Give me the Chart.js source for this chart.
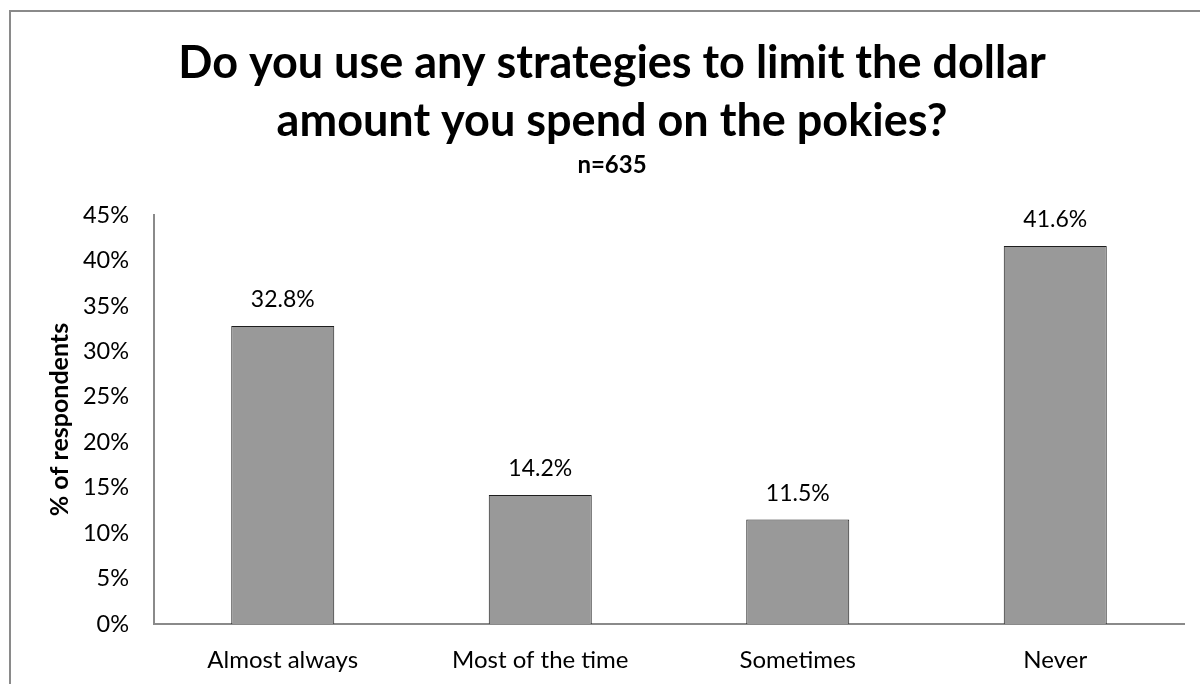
<!DOCTYPE html>
<html>
<head>
<meta charset="utf-8">
<title>Pokies spending strategies</title>
<script src="https://cdn.jsdelivr.net/npm/chart.js@4.4.1/dist/chart.umd.min.js"></script>
<style>
  html, body { margin: 0; padding: 0; background: #fff; }
  #wrap { width: 1200px; height: 684px; }
</style>
</head>
<body>
<div id="wrap"><canvas id="chart" width="1200" height="684"></canvas></div>
<script>
// survey answers and share of respondents (%)
const answers = ['Almost always', 'Most of the time', 'Sometimes', 'Never'];
const shares = [32.8, 14.2, 11.5, 41.6];
const titleLines = ['Do you use any strategies to limit the dollar', 'amount you spend on the pokies?'];
const sampleNote = 'n=635';

const FONT = 'Lato, "Open Sans", sans-serif';

// grey frame along the top and left edge of the chart box
const framePlugin = {
    id: 'frame',
    beforeDraw(chart) {
        const ctx = chart.ctx;
        ctx.save();
        ctx.strokeStyle = '#8a8a8a';
        ctx.lineWidth = 2;
        ctx.beginPath();
        ctx.moveTo(10, chart.height);
        ctx.lineTo(10, 11);
        ctx.lineTo(chart.width, 11);
        ctx.stroke();
        ctx.restore();
    }
};

// value labels above each bar
const valueLabels = {
    id: 'valueLabels',
    afterDatasetsDraw(chart) {
        const ctx = chart.ctx;
        const meta = chart.getDatasetMeta(0);
        ctx.save();
        ctx.font = '23px ' + FONT;
        ctx.fillStyle = '#000';
        ctx.textAlign = 'center';
        ctx.textBaseline = 'alphabetic';
        meta.data.forEach((bar, i) => {
            ctx.fillText(shares[i].toFixed(1) + '%', bar.x, bar.y - 19);
        });
        ctx.restore();
    }
};

new Chart(document.getElementById('chart').getContext('2d'), {
    type: 'bar',
    data: {
        labels: answers,
        datasets: [{
            data: shares,
            backgroundColor: '#999999',
            borderColor: '#1e1e1e',
            borderWidth: 1,
            barPercentage: 0.4,
            categoryPercentage: 1.0
        }]
    },
    options: {
        responsive: false,
        animation: false,
        layout: { padding: { left: 40, right: 16, top: 0, bottom: 0 } },
        plugins: {
            legend: { display: false },
            tooltip: { enabled: false },
            title: {
                display: true,
                text: titleLines,
                color: '#000',
                font: { family: FONT, size: 45, weight: 'bold', lineHeight: 1.29 },
                padding: { top: 34, bottom: 3 }
            },
            subtitle: {
                display: true,
                text: sampleNote,
                color: '#000',
                font: { family: FONT, size: 24, weight: 'bold', lineHeight: 1.0 },
                padding: { top: 0, bottom: 38 }
            }
        },
        scales: {
            x: {
                grid: { display: false, drawTicks: false },
                border: { display: true, color: '#8a8a8a', width: 2 },
                ticks: { color: '#000', font: { family: FONT, size: 24 }, padding: 22 },
                afterFit(scale) { scale.height = 60; }
            },
            y: {
                min: 0,
                max: 45,
                grid: { display: false, drawTicks: false },
                border: { display: true, color: '#8a8a8a', width: 2 },
                ticks: {
                    stepSize: 5,
                    color: '#000',
                    font: { family: FONT, size: 23.5 },
                    padding: 25,
                    callback: v => v + '%'
                },
                title: {
                    display: true,
                    text: '% of respondents',
                    color: '#000',
                    font: { family: FONT, size: 25, weight: 'bold', lineHeight: 1.2 },
                    padding: { top: 5, bottom: 0 }
                },
                afterFit(scale) { scale.width = 114; }
            }
        }
    },
    plugins: [framePlugin, valueLabels]
});
</script>
</body>
</html>
